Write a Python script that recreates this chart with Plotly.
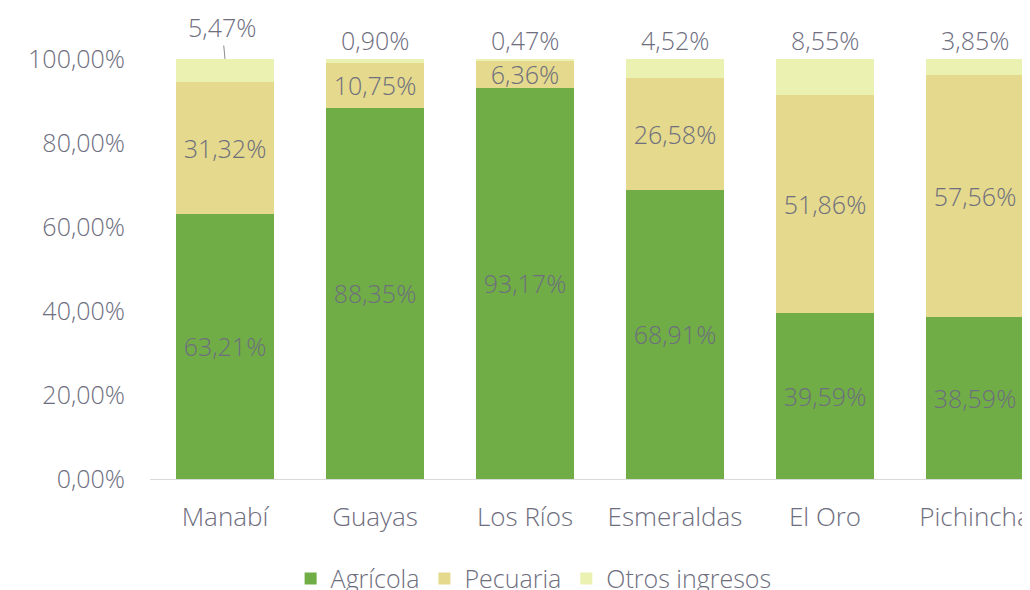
import plotly.graph_objects as go

categories = ["Manabí", "Guayas", "Los Ríos", "Esmeraldas", "El Oro", "Pichincha"]
agricola = [63.21, 88.35, 93.17, 68.91, 39.59, 38.59]
pecuaria = [31.32, 10.75, 6.36, 26.58, 51.86, 57.56]
otros = [5.47, 0.90, 0.47, 4.52, 8.55, 3.85]
y_ticks = [0, 20, 40, 60, 80, 100]

def fmt(v):
    return f"{v:.2f}".replace(".", ",") + "%"

TXT = "#6E6E7E"
FONT = "Open Sans"
FS = 25
WT = 300

fig = go.Figure()
series = [
    ("Agrícola", agricola, "#70AD47", True),
    ("Pecuaria", pecuaria, "#E4D98C", True),
    ("Otros ingresos", otros, "#EAF1B1", False),
]
for name, vals, color, show_text in series:
    fig.add_trace(go.Bar(
        name=name, x=categories, y=vals,
        marker=dict(color=color, line=dict(width=0)),
        text=[fmt(v) for v in vals] if show_text else None,
        textposition="inside" if show_text else "none",
        insidetextanchor="middle",
        constraintext="none",
        textfont=dict(family=FONT, size=FS, color=TXT, weight=WT),
        hoverinfo="skip",
    ))

# labels for the top segment, placed above each bar
for i, (c, v) in enumerate(zip(categories, otros)):
    top = min(agricola[i] + pecuaria[i] + otros[i], y_ticks[-1])
    if i == 0:
        fig.add_annotation(x=c, y=top, text=fmt(v), showarrow=True,
                           arrowhead=0, arrowwidth=1, arrowcolor="#8C8C8C",
                           ax=-3, ay=-32, standoff=0,
                           font=dict(family=FONT, size=FS, color=TXT, weight=WT))
    else:
        fig.add_annotation(x=c, y=top, text=fmt(v), showarrow=False,
                           yanchor="middle", yshift=19,
                           font=dict(family=FONT, size=FS, color=TXT, weight=WT))

fig.update_layout(
    width=1030, height=590,
    barmode="stack", bargap=0.347,
    paper_bgcolor="white", plot_bgcolor="white",
    margin=dict(l=142, r=0, t=51, b=119, autoexpand=False),
    font=dict(family=FONT, size=FS, color=TXT, weight=WT),
    showlegend=True,
    legend=dict(orientation="h", x=0.432, xanchor="center", y=-0.183, yanchor="top",
                font=dict(family=FONT, size=FS, color=TXT, weight=WT),
                itemwidth=30, traceorder="normal"),
    xaxis=dict(range=[-0.5, 5.42], showgrid=False, showline=True,
               linecolor="#D9D9D9", linewidth=1, ticks="outside", ticklen=15,
               tickcolor="rgba(0,0,0,0)",
               tickfont=dict(family=FONT, size=26, color=TXT, weight=WT)),
    yaxis=dict(range=[0, 100], tickvals=y_ticks, ticktext=[fmt(v) for v in y_ticks],
               showgrid=False, showline=False, zeroline=False, ticks="outside",
               ticklen=19, tickcolor="rgba(0,0,0,0)",
               tickfont=dict(family=FONT, size=FS, color=TXT, weight=WT)),
)

fig.write_html("out.html")
